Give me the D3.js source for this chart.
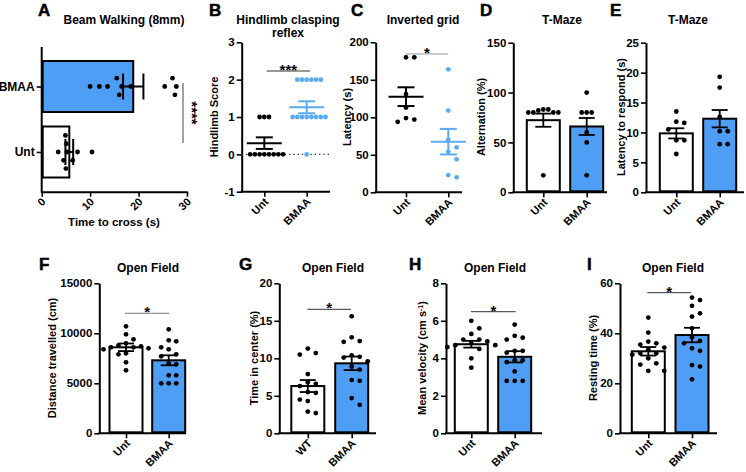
<!DOCTYPE html>
<html><head><meta charset="utf-8">
<script src="https://cdn.jsdelivr.net/npm/d3@7"></script>
<style>
body{margin:0;background:#fff}
text{font-family:"Liberation Sans",Arial,Helvetica,sans-serif;font-weight:bold;fill:#000}
</style>
</head><body>
<svg id="chart" width="746" height="472"></svg>
<script>
// ---------------- DATA ----------------
const groups = ["Unt", "BMAA"];
const groupsWT = ["WT", "BMAA"];

// A: Beam walking (time to cross, s)
const beamUnt = [3.4, 4.5, 4.9, 5.0, 5.1, 5.2, 6.4, 7.4, 10.4];
const beamBMAA = [10.0, 11.9, 13.6, 15.5, 16.5, 16.0, 18.4, 25.4, 27.0, 27.8, 27.5];
const beamMean = [5.7, 18.9];
const beamSem = [0.8, 2.1];
const beamTicks = [0, 10, 20, 30];

// B: Hindlimb clasping score
const clasUnt = [1, 1, 1, 0, 0, 0, 0, 0, 0, 0, 0];
const clasBMAA = [2, 2, 2, 2, 2, 2, 1, 1, 1, 1, 1, 1, 1, 1, 0];
const clasMean = [0.3, 1.26];
const clasSem = [0.155, 0.16];
const clasTicks = [-1, 0, 1, 2, 3];

// C: Inverted grid latency (s)
const gridUnt = [180, 180, 131, 113, 99, 97, 94];
const gridBMAA = [164, 109, 70, 60, 54, 44, 20, 23];
const gridMean = [127.5, 67.5];
const gridSem = [12.5, 17];
const gridTicks = [0, 50, 100, 150, 200];

// D: T-Maze alternation (%)
const altUnt = [83, 80, 80, 80, 82, 80, 83, 17];
const altBMAA = [100, 80, 80, 80, 60, 50, 17];
const altMean = [72.3, 66];
const altSem = [6.6, 8.5];
const altTicks = [0, 50, 100, 150];

// E: T-Maze latency to respond (s)
const latUnt = [13.5, 11.8, 11.6, 10.5, 8.7, 8.7, 6.4];
const latBMAA = [19.3, 17.5, 12.6, 10.2, 10.2, 8.05, 8.05];
const latMean = [9.85, 12.3];
const latSem = [0.85, 1.45];
const latTicks = [0, 5, 10, 15, 20, 25];

// F: Distance travelled (cm)
const distUnt = [10700, 9900, 9400, 9000, 8800, 8700, 8600, 8600, 8500, 8400, 8000, 7900, 7100, 6300];
const distBMAA = [10400, 9300, 9200, 8600, 8400, 7900, 7700, 7000, 6900, 5800, 5800, 5000, 5000, 5000];
const distMean = [8600, 7300];
const distSem = [380, 500];
const distTicks = [0, 5000, 10000, 15000];

// G: Time in center (%)
const centWT = [11.3, 10.7, 10.5, 7.9, 6.8, 6.6, 6.3, 5.5, 5.4, 4.5, 4.3, 2.9, 2.7];
const centBMAA = [15.6, 12.8, 12.3, 12.2, 10.4, 10.2, 10.1, 9.6, 8.9, 8.5, 7.1, 7.0, 4.7, 3.8];
const centMean = [6.3, 9.33];
const centSem = [0.8, 0.9];
const centTicks = [0, 5, 10, 15, 20];

// H: Mean velocity (cm s-1)
const velUnt = [6.0, 5.6, 5.3, 5.0, 5.0, 4.9, 4.8, 4.7, 4.7, 4.6, 4.5, 4.0, 3.5];
const velBMAA = [5.8, 5.2, 5.1, 5.0, 4.4, 4.4, 4.3, 3.9, 3.9, 3.8, 3.3, 2.8, 2.8, 2.8];
const velMean = [4.75, 4.08];
const velSem = [0.18, 0.3];
const velTicks = [0, 2, 4, 6, 8];

// I: Resting time (%)
const restUnt = [46.3, 40.3, 36.7, 36, 35.5, 34.3, 33.5, 32, 32, 31.5, 30, 28, 27.5, 25, 25];
const restBMAA = [54.3, 53.3, 51, 48, 46.7, 42, 38.4, 37, 36, 34, 33, 27.3, 26.7, 21.6];
const restMean = [32.8, 39.3];
const restSem = [1.7, 2.9];
const restTicks = [0, 20, 40, 60];

// ---------------- STYLE ----------------
const BLUE = "#4d9ef4";
const LBLUE = "#5aabf2";
const R = 2.4;
const svg = d3.select("#chart");

function swarm(values, scale, spacing) {
  const idx = values.map((v, i) => i).sort((a, b) => values[b] - values[a]);
  const placed = [], off = new Array(values.length).fill(0);
  for (const i of idx) {
    const p = scale(values[i]);
    for (let k = 0; k < 60; k++) {
      const o = (k % 2 === 1 ? 1 : -1) * Math.ceil(k / 2) * spacing;
      if (placed.every(q => (q.p - p) ** 2 + (q.o - o) ** 2 >= spacing * spacing * 0.98)) {
        off[i] = o; placed.push({p, o}); break;
      }
    }
  }
  return off;
}

function letter(t, x, y) {
  svg.append("text").attr("x", x).attr("y", y).attr("font-size", 17)
    .attr("stroke", "#000").attr("stroke-width", 0.5).text(t);
}
function title(lines, x, y) {
  lines.forEach((l, i) => svg.append("text").attr("x", x).attr("y", y + i * 13)
    .attr("text-anchor", "middle").attr("font-size", 12).text(l));
}
function ylabel(t, x, y) {
  return svg.append("text").attr("transform", `translate(${x},${y}) rotate(-90)`)
    .attr("text-anchor", "middle").attr("dy", "0.35em").attr("font-size", 11).text(t);
}
function sig(x1, x2, y, stars, color) {
  svg.append("line").attr("x1", x1).attr("x2", x2).attr("y1", y).attr("y2", y)
    .attr("stroke", color).attr("stroke-width", 1);
  svg.append("text").attr("x", (x1 + x2) / 2).attr("y", y + 4).attr("text-anchor", "middle")
    .attr("font-size", 15).text(stars);
}
function styleAxis(g) {
  g.select(".domain").attr("stroke-width", 2).attr("stroke", "#000");
  g.selectAll(".tick line").attr("stroke-width", 1.6).attr("stroke", "#000");
  g.selectAll(".tick text").attr("font-size", 11.5).attr("fill", "#000")
    .attr("font-family", "Liberation Sans, Arial, sans-serif").attr("font-weight", "bold");
}
function rotLabel(t, x, y) {
  svg.append("text").attr("transform", `translate(${x + 2},${y + 8}) rotate(-45)`)
    .attr("text-anchor", "end").attr("dy", "0.35em").attr("font-size", 11).text(t);
}

function frame(cfg) {
  const y = d3.scaleLinear().domain([cfg.ticks[0], cfg.ticks[cfg.ticks.length - 1]]).range([cfg.bottom, cfg.top]);
  const x = d3.scalePoint().domain(cfg.cats).range(cfg.centers);
  const gy = svg.append("g").attr("transform", `translate(${cfg.x0},0)`)
    .call(d3.axisLeft(y).tickValues(cfg.ticks).tickSize(5).tickSizeOuter(0).tickPadding(2).tickFormat(d => d));
  styleAxis(gy);
  svg.append("line").attr("x1", cfg.x0 - 1).attr("x2", cfg.x1).attr("y1", cfg.bottom).attr("y2", cfg.bottom)
    .attr("stroke", "#000").attr("stroke-width", 2);
  const gx = svg.append("g").attr("transform", `translate(0,${cfg.bottom})`)
    .call(d3.axisBottom(x).tickSize(5).tickFormat(""));
  gx.select(".domain").remove();
  styleAxis(gx);
  cfg.cats.forEach(c => rotLabel(c, x(c), cfg.bottom));
  return {x, y};
}

function barPanel(cfg) {
  const {x, y} = frame(cfg);
  const bw = 33, capW = 16;
  cfg.cats.forEach((c, i) => {
    const cx = x(c);
    svg.append("rect").attr("x", cx - bw / 2).attr("y", y(cfg.mean[i]))
      .attr("width", bw).attr("height", y(cfg.ticks[0]) - y(cfg.mean[i]) - 1)
      .attr("fill", i === 0 ? "#fff" : BLUE).attr("stroke", "#000").attr("stroke-width", 2);
    const lo = y(cfg.mean[i] - cfg.sem[i]), hi = y(cfg.mean[i] + cfg.sem[i]);
    const eg = svg.append("g").attr("stroke", "#000").attr("stroke-width", 1.8);
    eg.append("line").attr("x1", cx).attr("x2", cx).attr("y1", lo).attr("y2", hi);
    eg.append("line").attr("x1", cx - capW / 2).attr("x2", cx + capW / 2).attr("y1", lo).attr("y2", lo);
    eg.append("line").attr("x1", cx - capW / 2).attr("x2", cx + capW / 2).attr("y1", hi).attr("y2", hi);
    const vals = cfg.data[i];
    const off = swarm(vals, y, cfg.spacing);
    svg.append("g").selectAll("circle").data(vals).join("circle")
      .attr("cx", (d, j) => cx + off[j]).attr("cy", d => y(d)).attr("r", R).attr("fill", "#000");
  });
  return {x, y};
}

function scatterPanel(cfg) {
  const {x, y} = frame(cfg);
  const colors = ["#000", LBLUE];
  if (cfg.zeroLine) {
    svg.append("line").attr("x1", cfg.x0).attr("x2", cfg.x1).attr("y1", y(0)).attr("y2", y(0))
      .attr("stroke", "#333").attr("stroke-width", 1.3).attr("stroke-dasharray", "1.3,3");
  }
  cfg.cats.forEach((c, i) => {
    const cx = x(c);
    const vals = cfg.data[i];
    const off = swarm(vals, y, cfg.spacing);
    svg.append("g").selectAll("circle").data(vals).join("circle")
      .attr("cx", (d, j) => cx + off[j]).attr("cy", d => y(d)).attr("r", R).attr("fill", colors[i]);
    const m = y(cfg.mean[i]), lo = y(cfg.mean[i] - cfg.sem[i]), hi = y(cfg.mean[i] + cfg.sem[i]);
    const eg = svg.append("g").attr("stroke", colors[i]).attr("stroke-width", 2);
    eg.append("line").attr("x1", cx - 17.5).attr("x2", cx + 17.5).attr("y1", m).attr("y2", m);
    eg.append("line").attr("x1", cx).attr("x2", cx).attr("y1", lo).attr("y2", hi);
    eg.append("line").attr("x1", cx - 8.5).attr("x2", cx + 8.5).attr("y1", lo).attr("y2", lo);
    eg.append("line").attr("x1", cx - 8.5).attr("x2", cx + 8.5).attr("y1", hi).attr("y2", hi);
  });
  return {x, y};
}

// ---------------- PANEL A (horizontal bars) ----------------
(function () {
  const cats = ["BMAA", "Unt"];
  const data = [beamBMAA, beamUnt], mean = [beamMean[1], beamMean[0]], sem = [beamSem[1], beamSem[0]];
  const x = d3.scaleLinear().domain([0, 30]).range([41.7, 187]);
  const y = d3.scalePoint().domain(cats).range([86.5, 152]);
  const left = 41.7, top = 47, bottom = 191.7, bh = 51;
  cats.forEach((c, i) => {
    const cy = y(c);
    svg.append("rect").attr("x", left + 1).attr("y", cy - bh / 2).attr("width", x(mean[i]) - left - 1).attr("height", bh)
      .attr("fill", c === "BMAA" ? BLUE : "#fff").attr("stroke", "#000").attr("stroke-width", 2);
    const off = swarm(data[i], x, 8.3);
    svg.append("g").selectAll("circle").data(data[i]).join("circle")
      .attr("cx", d => x(d)).attr("cy", (d, j) => cy + off[j]).attr("r", R).attr("fill", "#000");
    const lo = x(mean[i] - sem[i]), hi = x(mean[i] + sem[i]);
    const eg = svg.append("g").attr("stroke", "#000").attr("stroke-width", 2);
    eg.append("line").attr("x1", lo).attr("x2", hi).attr("y1", cy).attr("y2", cy);
    eg.append("line").attr("x1", lo).attr("x2", lo).attr("y1", cy - 13).attr("y2", cy + 13);
    eg.append("line").attr("x1", hi).attr("x2", hi).attr("y1", cy - 13).attr("y2", cy + 13);
  });
  const gy = svg.append("g").attr("transform", `translate(${left},0)`)
    .call(d3.axisLeft(y).tickSize(5).tickPadding(2).tickSizeOuter(0));
  gy.select(".domain").remove();
  styleAxis(gy);
  gy.selectAll(".tick text").attr("font-size", 12);
  svg.append("line").attr("x1", left).attr("x2", left).attr("y1", top).attr("y2", bottom + 1)
    .attr("stroke", "#000").attr("stroke-width", 2);
  const gx = svg.append("g").attr("transform", `translate(0,${bottom})`)
    .call(d3.axisBottom(x).tickValues(beamTicks).tickSize(5).tickSizeOuter(0).tickFormat(""));
  styleAxis(gx);
  beamTicks.forEach(t => rotLabel(t, x(t), bottom));
  svg.append("text").attr("x", 114).attr("y", 226).attr("text-anchor", "middle").attr("font-size", 11.5).text("Time to cross (s)");
  letter("A", 38, 16);
  title(["Beam Walking (8mm)"], 124, 24);
  svg.append("line").attr("x1", 183).attr("x2", 183).attr("y1", 83).attr("y2", 143).attr("stroke", "#444").attr("stroke-width", 1);
  svg.append("text").attr("transform", "translate(187,113) rotate(90)").attr("text-anchor", "middle")
    .attr("font-size", 15).text("****");
})();

// ---------------- PANEL B ----------------
scatterPanel({x0: 241.7, x1: 330, top: 42.3, bottom: 191.7, centers: [264.3, 306.7], cats: groups,
  ticks: clasTicks, data: [clasUnt, clasBMAA], mean: clasMean, sem: clasSem, spacing: 4.7, zeroLine: true});
letter("B", 209, 16);
title(["Hindlimb clasping", "reflex"], 288, 24);
ylabel("Hindlimb Score", 214, 117);
sig(266.7, 310, 71, "***", "#333");

// ---------------- PANEL C ----------------
scatterPanel({x0: 375.7, x1: 462, top: 42.3, bottom: 192.3, centers: [406, 448.3], cats: groups,
  ticks: gridTicks, data: [gridUnt, gridBMAA], mean: gridMean, sem: gridSem, spacing: 8.3});
letter("C", 351, 16);
title(["Inverted grid"], 423, 24);
ylabel("Latency (s)", 347.5, 117);
sig(405.7, 448.3, 54, "*", "#999");

// ---------------- PANEL D ----------------
barPanel({x0: 513.3, x1: 607, top: 42.7, bottom: 192.3, centers: [543.3, 586.7], cats: groups,
  ticks: altTicks, data: [altUnt, altBMAA], mean: altMean, sem: altSem, spacing: 5});
letter("D", 480, 16);
title(["T-Maze"], 562, 24);
ylabel("Alternation (%)", 481.5, 117);

// ---------------- PANEL E ----------------
barPanel({x0: 646, x1: 744, top: 42.7, bottom: 192.3, centers: [676.3, 719.7], cats: groups,
  ticks: latTicks, data: [latUnt, latBMAA], mean: latMean, sem: latSem, spacing: 8});
letter("E", 610, 16);
title(["T-Maze"], 688, 24);
ylabel("Latency to respond (s)", 621.5, 117);

// ---------------- PANEL F ----------------
barPanel({x0: 99.3, x1: 186, top: 283.3, bottom: 433.3, centers: [126, 168.7], cats: groups,
  ticks: distTicks, data: [distUnt, distBMAA], mean: distMean, sem: distSem, spacing: 7.5});
letter("F", 39, 270);
title(["Open Field"], 148, 272);
ylabel("Distance travelled (cm)", 52, 358);
sig(125, 169.3, 313.3, "*", "#777");

// ---------------- PANEL G ----------------
barPanel({x0: 279.3, x1: 376, top: 283.3, bottom: 433.3, centers: [307.8, 351.7], cats: groupsWT,
  ticks: centTicks, data: [centWT, centBMAA], mean: centMean, sem: centSem, spacing: 8});
letter("G", 239, 270);
title(["Open Field"], 333, 272);
ylabel("Time in center (%)", 254.5, 358);
sig(307.3, 351, 309.3, "*", "#333");

// ---------------- PANEL H ----------------
barPanel({x0: 446, x1: 542, top: 283.3, bottom: 433.3, centers: [471.3, 514.7], cats: groups,
  ticks: velTicks, data: [velUnt, velBMAA], mean: velMean, sem: velSem, spacing: 8});
letter("H", 409, 270);
title(["Open Field"], 495, 272);
(function () {
  const t = svg.append("text").attr("transform", "translate(422,358) rotate(-90)")
    .attr("text-anchor", "middle").attr("dy", "0.35em").attr("font-size", 11);
  t.append("tspan").text("Mean velocity (cm s");
  t.append("tspan").attr("baseline-shift", "super").attr("font-size", 7).text("-1");
  t.append("tspan").text(")");
})();
sig(471, 515.7, 311.7, "*", "#333");

// ---------------- PANEL I ----------------
barPanel({x0: 620, x1: 717, top: 283.3, bottom: 433.3, centers: [648.3, 692], cats: groups,
  ticks: restTicks, data: [restUnt, restBMAA], mean: restMean, sem: restSem, spacing: 8});
letter("I", 587, 270);
title(["Open Field"], 673, 272);
ylabel("Resting time (%)", 593, 358);
sig(647.3, 691, 292.7, "*", "#333");
</script>
</body></html>
